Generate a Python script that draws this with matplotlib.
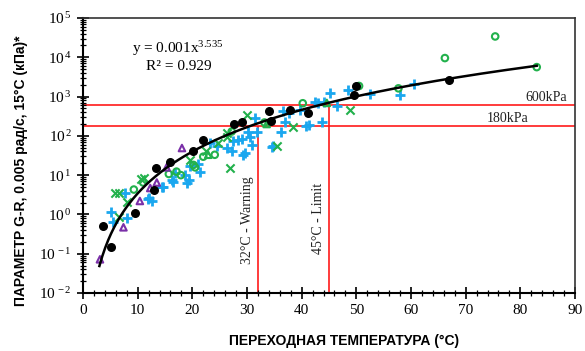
import numpy as np
import matplotlib
matplotlib.use("Agg")
import matplotlib.pyplot as plt
from matplotlib.ticker import FixedLocator, MultipleLocator, LogLocator, NullFormatter, FuncFormatter

plt.rcParams['mathtext.fontset'] = 'custom'
plt.rcParams['mathtext.rm'] = 'Liberation Serif'
plt.rcParams['mathtext.it'] = 'Liberation Serif:italic'

# ---- data ----
black_x = [3.7, 5.1, 9.5, 13.0, 13.4, 16.0, 20.1, 21.9, 27.6, 29.0, 34.1, 34.4, 37.9, 41.1, 49.6, 49.9, 67.0]
black_y = [0.51, 0.15, 1.1, 4.1, 15, 21, 42, 78, 200, 220, 430, 245, 460, 380, 1100, 1900, 2650]

gcirc_x = [9.3, 11.0, 15.7, 17.1, 17.9, 20.2, 20.5, 22.0, 24.1, 27.2, 33.2, 40.2, 50.5, 57.7, 66.2, 75.4, 83.0]
gcirc_y = [4.3, 6.5, 10.7, 12.3, 10.0, 18.2, 15.8, 29.5, 33, 129, 219, 676, 1860, 1620, 9550, 33900, 5620]

gx_x = [5.9, 6.6, 6.5, 8.0, 10.7, 11.2, 19.5, 22.5, 24.7, 26.3, 26.4, 26.9, 30.0, 35.4, 38.4, 48.8]
gx_y = [3.5, 3.6, 0.85, 2.1, 7.9, 8.3, 25, 40, 65, 95, 117, 15, 340, 56, 166, 457]

gtri_x = [22.9, 33.6, 44.6]
gtri_y = [33, 200, 690]

ptri_x = [3.1, 7.4, 10.4, 12.3, 13.5, 15.3, 18.1]
ptri_y = [0.072, 0.47, 2.2, 4.7, 6.5, 15.8, 49]

blue_x = [5.2, 5.5, 7.7, 8.0, 11.9, 12.1, 12.6, 14.4, 14.7, 16.2, 16.5, 16.8, 18.7, 19.0, 19.3,
          19.6, 21.1, 21.4, 23.2, 24.5, 26.3, 27.2, 27.5, 28.4, 29.0, 29.2, 29.6, 30.2, 30.5, 30.9,
          31.5, 31.8, 34.5, 34.8, 36.2, 36.6, 36.9, 37.6, 39.7, 40.8, 41.3, 42.4, 42.9, 43.7, 44.0,
          45.1, 46.4, 48.5, 52.5, 58.0, 60.6]
blue_y = [1.17, 0.66, 3.47, 0.81, 2.45, 2.57, 2.2, 5.13, 4.9, 7.6, 6.5, 11.2, 10.2, 6.3, 7.6,
          16.6, 19.5, 12.3, 65, 54, 49, 40, 72, 79, 85, 33, 36, 129, 95, 59,
          282, 129, 51, 54, 129, 417, 229, 380, 457, 178, 191, 741, 700, 229, 741,
          1230, 562, 1480, 1150, 1100, 2090]

fit_a = 0.001
fit_b = 3.535
fit_xmin, fit_xmax = 3.0, 83.0

limits_kpa = [600, 180]
limits_labels = ['600kPa', '180kPa']
temps = [32, 45]
temp_labels = ['32°C - Warning', '45°C - Limit']

xticks = [0, 10, 20, 30, 40, 50, 60, 70, 80, 90]
yexp = [-2, -1, 0, 1, 2, 3, 4, 5]

# ---- figure ----
W, H = 585, 351
fig = plt.figure(figsize=(5.85, 3.51), dpi=100)
ax = fig.add_axes([83/W, 1-293/H, (575-83)/W, (293-18)/H])
ax.set_yscale('log')
ax.set_xlim(0, 90)
ax.set_ylim(1e-2, 1e5)

red = '#ff1a1a'
for v in limits_kpa:
    ax.axhline(v, color=red, lw=1.2, zorder=1)
ax.vlines(temps[0], 1e-2, limits_kpa[1], color=red, lw=1.2, zorder=1)
ax.vlines(temps[1], 1e-2, limits_kpa[0], color=red, lw=1.2, zorder=1)

blue = '#1aa7ef'
green = '#22b14c'
purple = '#7a2fa8'
ax.scatter(blue_x, blue_y, marker='+', s=45, linewidths=2.0, color=blue, zorder=3)
ax.scatter(gx_x, gx_y, marker='x', s=35, linewidths=1.5, color=green, zorder=3)
ax.scatter(gcirc_x, gcirc_y, marker='o', s=22, facecolors='none', edgecolors=green, linewidths=1.5, zorder=3)
ax.scatter(gtri_x, gtri_y, marker='^', s=22, facecolors='none', edgecolors=green, linewidths=1.5, zorder=3)
ax.scatter(ptri_x, ptri_y, marker='^', s=22, facecolors='none', edgecolors=purple, linewidths=1.5, zorder=3)
ax.scatter(black_x, black_y, marker='o', s=30, color='black', zorder=4)

xf = np.linspace(fit_xmin, fit_xmax, 300)
ax.plot(xf, fit_a * xf ** fit_b, color='black', lw=1.8, zorder=5)

serif = 'Liberation Serif'
fig.text(178/W, 1-49/H, r'y = 0.001x$^{3.535}$', fontsize=11, family=serif, ha='center', va='center')
fig.text(179/W, 1-66/H, 'R² = 0.929', fontsize=11, family=serif, ha='center', va='center')

ax.text(88.5, 640, limits_labels[0], fontsize=10, family=serif, ha='right', va='bottom', color='#222222')
ax.text(81.4, 192, limits_labels[1], fontsize=10, family=serif, ha='right', va='bottom', color='#222222')
ax.text(temps[0] - 0.7, 0.72, temp_labels[0], rotation=90, fontsize=10, family=serif,
        ha='right', va='center', color='#222222')
ax.text(temps[1] - 0.7, 0.78, temp_labels[1], rotation=90, fontsize=10, family=serif,
        ha='right', va='center', color='#222222')

ax.xaxis.set_major_locator(FixedLocator(xticks))
ax.xaxis.set_minor_locator(MultipleLocator(2))
ax.yaxis.set_major_locator(FixedLocator([10.0**e for e in yexp]))
ax.yaxis.set_minor_locator(LogLocator(base=10, subs=np.arange(2, 10), numticks=20))
ax.yaxis.set_minor_formatter(NullFormatter())
ax.yaxis.set_major_formatter(FuncFormatter(lambda v, p: r'$\mathrm{10}^{\,%d}$' % int(round(np.log10(v)))))
ax.tick_params(which='major', direction='inout', length=8, width=1.2, labelsize=11, pad=4)
ax.tick_params(which='minor', direction='inout', length=5, width=0.9)
ax.tick_params(axis='both', which='both', top=False, right=False)
for lab in ax.get_xticklabels():
    lab.set_family(serif)

for s in ['left', 'bottom']:
    ax.spines[s].set_linewidth(1.5)
    ax.spines[s].set_color('black')
for s in ['top', 'right']:
    ax.spines[s].set_linewidth(1.2)
    ax.spines[s].set_color('#333333')

fig.text(21/W, 1-171/H, 'ПАРАМЕТР G-R, 0.005 рад/с, 15°C (кПа)*', rotation=90,
         fontsize=10, fontweight='bold', family='Liberation Sans', ha='center', va='center')
fig.text(344/W, 1-341/H, 'ПЕРЕХОДНАЯ ТЕМПЕРАТУРА (°C)', fontsize=10, fontweight='bold',
         family='Liberation Sans', ha='center', va='center')

fig.savefig('out.png', dpi=100)
